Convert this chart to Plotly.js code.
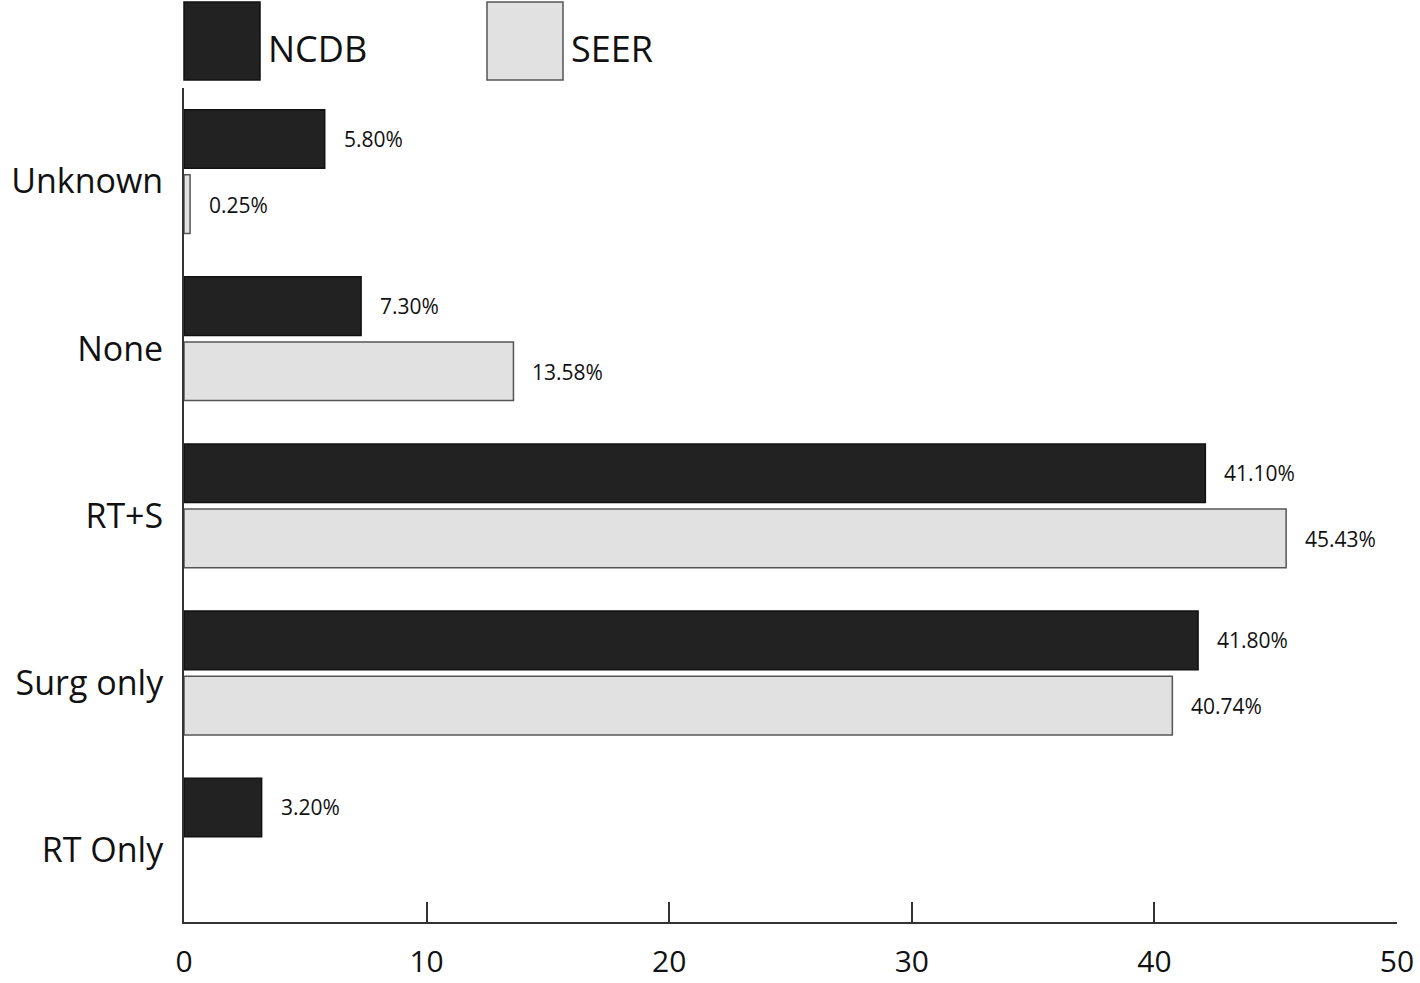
<!DOCTYPE html>
<html>
<head>
<meta charset="utf-8">
<script src="https://cdn.plot.ly/plotly-3.0.1.min.js"></script>
<style>html,body{margin:0;padding:0;background:#fff;}</style>
</head>
<body>
<div id="chart" style="width:1420px;height:983px;"></div>
<script>
// Data (bottom to top)
const categories = ['RT Only', 'Surg only', 'RT+S', 'None', 'Unknown'];
const ncdbValues = [3.2, 41.8, 42.1, 7.3, 5.8];
const seerValues = [null, 40.74, 45.43, 13.58, 0.25];
const ncdbLabels = ['3.20%', '41.80%', '41.10%', '7.30%', '5.80%'];
const seerLabels = ['', '40.74%', '45.43%', '13.58%', '0.25%'];
const xTicks = [0, 10, 20, 30, 40, 50];
const seriesNames = ['NCDB', 'SEER'];

const seerTrace = {
  type: 'bar', orientation: 'h', name: seriesNames[1],
  y: categories, x: seerValues,
  marker: {color: '#e1e1e1', line: {color: '#555555', width: 1.5}},
  hoverinfo: 'skip', showlegend: false
};
const ncdbTrace = {
  type: 'bar', orientation: 'h', name: seriesNames[0],
  y: categories, x: ncdbValues,
  marker: {color: '#222222', line: {color: '#111111', width: 1.5}},
  hoverinfo: 'skip', showlegend: false
};

const annotations = [];
categories.forEach((c, i) => {
  if (ncdbValues[i] != null) {
    annotations.push({x: ncdbValues[i], y: c, xref: 'x', yref: 'y', text: ncdbLabels[i],
      showarrow: false, xanchor: 'left', yanchor: 'middle', xshift: 17, yshift: 33,
      font: {family: 'Open Sans, sans-serif', size: 21, color: '#111'}});
  }
  if (seerValues[i] != null && seerLabels[i]) {
    annotations.push({x: seerValues[i], y: c, xref: 'x', yref: 'y', text: seerLabels[i],
      showarrow: false, xanchor: 'left', yanchor: 'middle', xshift: 17, yshift: -33,
      font: {family: 'Open Sans, sans-serif', size: 21, color: '#111'}});
  }
});

// Custom legend (paper coords: plot area x 184..1397, y 88..922)
const W = 1213, H = 834;
const px = v => (v - 184) / W;
const py = v => (922 - v) / H;
const shapes = [
  {type: 'rect', xref: 'paper', yref: 'paper', x0: px(184), x1: px(260), y0: py(80), y1: py(2),
   fillcolor: '#222222', line: {color: '#111', width: 1.5}},
  {type: 'rect', xref: 'paper', yref: 'paper', x0: px(487), x1: px(563), y0: py(80), y1: py(2),
   fillcolor: '#e1e1e1', line: {color: '#555', width: 1.5}}
];
annotations.push({xref: 'paper', yref: 'paper', x: px(266), y: py(48), text: seriesNames[0],
  showarrow: false, xanchor: 'left', yanchor: 'middle',
  font: {family: 'Open Sans, sans-serif', size: 36, color: '#111'}});
annotations.push({xref: 'paper', yref: 'paper', x: px(569), y: py(48), text: seriesNames[1],
  showarrow: false, xanchor: 'left', yanchor: 'middle',
  font: {family: 'Open Sans, sans-serif', size: 36, color: '#111'}});

const layout = {
  width: 1420, height: 983,
  margin: {l: 184, r: 23, t: 88, b: 61, pad: 0},
  paper_bgcolor: '#fff', plot_bgcolor: '#fff',
  barmode: 'group', bargap: 0.22, bargroupgap: 0.1,
  showlegend: false,
  xaxis: {
    range: [0, 50], tickvals: xTicks, ticktext: xTicks.map(String),
    ticks: 'inside', ticklen: 20, tickwidth: 2, tickcolor: '#333',
    showline: true, linecolor: '#333', linewidth: 2,
    showgrid: false, zeroline: false, ticklabelstandoff: 12,
    tickfont: {family: 'Open Sans, sans-serif', size: 30, color: '#111'}
  },
  yaxis: {
    type: 'category', categoryorder: 'array', categoryarray: categories,
    range: [-0.49, 4.5],
    ticks: '', showline: true, linecolor: '#333', linewidth: 2,
    showgrid: false, zeroline: false, ticklabelstandoff: 12, ticklabelshift: 10,
    tickfont: {family: 'Open Sans, sans-serif', size: 34, color: '#111'}
  },
  shapes: shapes,
  annotations: annotations
};

Plotly.newPlot('chart', [seerTrace, ncdbTrace], layout, {displayModeBar: false, staticPlot: true});
</script>
</body>
</html>
